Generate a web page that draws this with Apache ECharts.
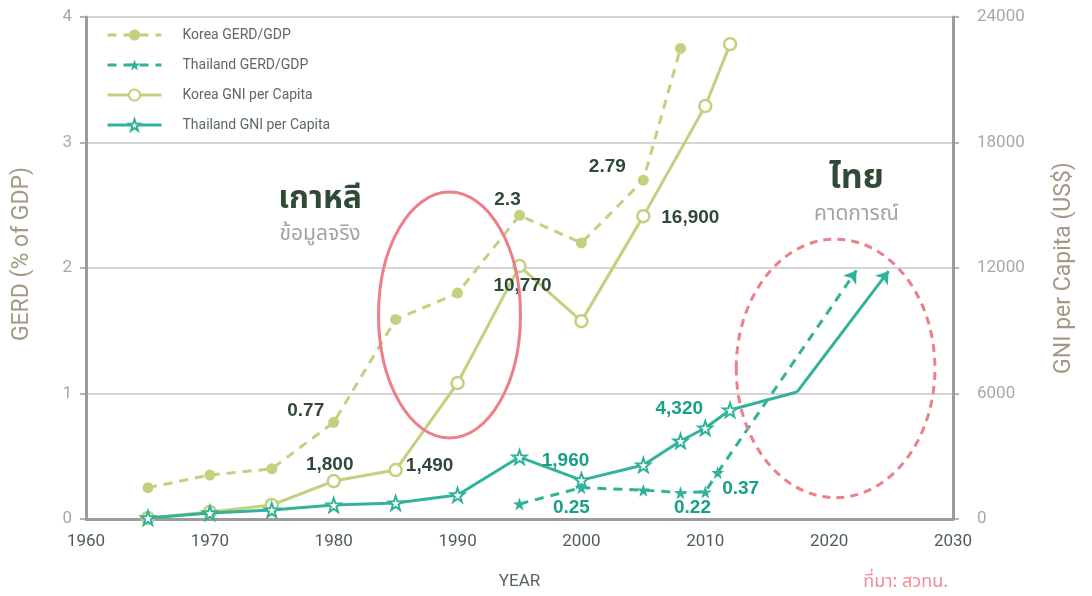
<!DOCTYPE html>
<html>
<head>
<meta charset="utf-8">
<script src="https://cdn.jsdelivr.net/npm/echarts@6/dist/echarts.min.js"></script>
<style>
html,body{margin:0;padding:0;background:#fff;}
#c{width:1092px;height:596px;}
</style>
</head>
<body>
<div id="c"></div>
<script>
// ---- data ----
const koreaGerdYears = [1965, 1970, 1975, 1980, 1985, 1990, 1995, 2000, 2005, 2008];
const koreaGerd      = [0.25, 0.35, 0.40, 0.77, 1.59, 1.80, 2.42, 2.20, 2.70, 3.75];
const koreaGerdLabels = ['', '', '', '0.77', '', '', '2.3', '', '2.79', ''];

const thaiGerdYears = [1995, 2000, 2005, 2008, 2010, 2011];
const thaiGerd      = [0.12, 0.25, 0.23, 0.21, 0.215, 0.37];
const thaiGerdLabels = ['', '0.25', '', '0.22', '', '0.37'];
const thaiGerdProjYear = 2022.2;
const thaiGerdProj     = 1.98;

const koreaGniYears = [1965, 1970, 1975, 1980, 1985, 1990, 1995, 2000, 2005, 2010, 2012];
const koreaGni      = [50, 335, 670, 1815, 2340, 6500, 12090, 9460, 14480, 19740, 22700];
const koreaGniLabels = ['', '', '', '1,800', '1,490', '', '10,770', '', '16,900', '', ''];

const thaiGniYears = [1965, 1970, 1975, 1980, 1985, 1990, 1995, 2000, 2005, 2008, 2010, 2012];
const thaiGni      = [50, 290, 430, 670, 765, 1150, 2960, 1860, 2580, 3730, 4350, 5210];
const thaiGniLabels = ['', '', '', '', '', '', '1,960', '', '', '', '4,320', ''];
const thaiGniProjYears = [2017.4, 2024.8];
const thaiGniProj      = [6070, 11850];

const seriesNames = ['Korea GERD/GDP', 'Thailand GERD/GDP', 'Korea GNI per Capita', 'Thailand GNI per Capita'];
const xTicks = [1960, 2030, 10];
const gerdTicks = [0, 4, 1];
const gniTicks = [0, 24000, 6000];

// ---- style ----
const GREEN = '#c4d07e';
const TEAL = '#33b29a';
const DARK = '#2f4a36';
const TEALTXT = '#17a086';
const AXIS = '#9c9c9c';
const NAMEC = '#a39a84';
const FONT = "'Liberation Sans Narrow', 'Roboto', sans-serif";
const STAR = 'path://M50,2 L61.8,36.2 L97.6,36.9 L69,58.8 L79.4,93.1 L50,72.6 L20.6,93.1 L31,58.8 L2.4,36.9 L38.2,36.2 Z';

const labelOffsets = {
  kGerd: {3: [-28, -12], 6: [-12, -16], 8: [-36, -13]},
  tGerd: {1: [-10, 20], 3: [12, 15], 5: [23, 16]},
  kGni:  {3: [-4, -16], 4: [34, -4], 6: [3, 20], 8: [47, 2]},
  tGni:  {6: [46, 4], 10: [-26, -19]}
};

function build(years, vals, labels, offs, color) {
  return years.map((y, i) => {
    const item = {value: [y, vals[i]]};
    if (labels[i]) {
      item.label = {
        show: true, position: 'inside', formatter: labels[i], offset: offs[i],
        color: color, fontSize: 19, fontWeight: 'bold', fontFamily: "'Liberation Sans', Arial, sans-serif"
      };
    }
    return item;
  });
}

const chart = echarts.init(document.getElementById('c'));

const thaiGniData = build(thaiGniYears, thaiGni, thaiGniLabels, labelOffsets.tGni, TEALTXT);
thaiGniData.push({value: [thaiGniProjYears[0], thaiGniProj[0]], symbol: 'none'});

const plain = v => String(v);

const option = {
  animation: false,
  backgroundColor: '#fff',
  grid: {left: 86, right: 139, top: 17, bottom: 77},
  legend: {
    orient: 'vertical', left: 106, top: 28, padding: 0,
    itemWidth: 54, itemHeight: 14, itemGap: 16,
    lineStyle: {width: 3},
    textStyle: {color: '#5b6b5d', fontSize: 14, fontFamily: FONT, padding: [0, 0, 0, 16]},
    data: seriesNames
  },
  xAxis: {
    type: 'value', min: xTicks[0], max: xTicks[1], interval: xTicks[2],
    name: 'YEAR', nameLocation: 'middle', nameGap: 54,
    nameTextStyle: {color: '#56655a', fontSize: 17, fontFamily: FONT},
    axisLine: {show: true, lineStyle: {color: AXIS, width: 3}},
    axisTick: {show: false},
    splitLine: {show: false},
    axisLabel: {color: '#4f5e52', fontSize: 17, fontFamily: FONT, margin: 14, formatter: plain}
  },
  yAxis: [{
    type: 'value', min: gerdTicks[0], max: gerdTicks[1], interval: gerdTicks[2],
    name: 'GERD (% of GDP)', nameLocation: 'middle', nameGap: 52,
    nameTextStyle: {color: NAMEC, fontSize: 23, fontFamily: FONT, padding: [0, 0, 0, 28]},
    axisLine: {show: true, lineStyle: {color: AXIS, width: 3}},
    axisTick: {show: true, length: 6, lineStyle: {color: AXIS, width: 1.5}},
    splitLine: {show: true, lineStyle: {color: '#c9c9c9', width: 1.5}},
    axisLabel: {color: '#a8a8a8', fontSize: 17, fontFamily: FONT, margin: 14, formatter: plain}
  }, {
    type: 'value', min: gniTicks[0], max: gniTicks[1], interval: gniTicks[2],
    name: 'GNI per Capita (US$)', nameLocation: 'middle', nameGap: 100,
    nameTextStyle: {color: NAMEC, fontSize: 23, fontFamily: FONT, padding: [0, 0, 28, 0]},
    axisLine: {show: true, lineStyle: {color: AXIS, width: 3}},
    axisTick: {show: true, length: 6, lineStyle: {color: AXIS, width: 1.5}},
    splitLine: {show: false},
    axisLabel: {color: '#a8a8a8', fontSize: 17, fontFamily: FONT, margin: 24, formatter: plain}
  }],
  series: [{
    name: seriesNames[0], type: 'line', yAxisIndex: 0, z: 3,
    data: build(koreaGerdYears, koreaGerd, koreaGerdLabels, labelOffsets.kGerd, DARK),
    symbol: 'circle', symbolSize: 11,
    itemStyle: {color: GREEN},
    lineStyle: {color: GREEN, width: 3, type: [9, 7]}
  }, {
    name: seriesNames[1], type: 'line', yAxisIndex: 0, z: 5,
    data: build(thaiGerdYears, thaiGerd, thaiGerdLabels, labelOffsets.tGerd, TEALTXT),
    symbol: STAR, symbolSize: 13,
    itemStyle: {color: TEAL},
    lineStyle: {color: TEAL, width: 3, type: [9, 7]},
    markLine: {
      silent: true, symbol: ['none', 'arrow'], symbolSize: 12, label: {show: false},
      lineStyle: {color: TEAL, width: 3, type: [9, 7]},
      data: [[{coord: [thaiGerdYears[thaiGerdYears.length - 1], thaiGerd[thaiGerd.length - 1]]},
              {coord: [thaiGerdProjYear, thaiGerdProj]}]]
    }
  }, {
    name: seriesNames[2], type: 'line', yAxisIndex: 1, z: 4,
    data: build(koreaGniYears, koreaGni, koreaGniLabels, labelOffsets.kGni, DARK),
    symbol: 'circle', symbolSize: 12,
    itemStyle: {color: '#fff', borderColor: GREEN, borderWidth: 2.5},
    lineStyle: {color: GREEN, width: 3}
  }, {
    name: seriesNames[3], type: 'line', yAxisIndex: 1, z: 6,
    data: thaiGniData,
    symbol: STAR, symbolSize: 14,
    itemStyle: {color: '#fff', borderColor: TEAL, borderWidth: 2},
    lineStyle: {color: TEAL, width: 3},
    markLine: {
      silent: true, symbol: ['none', 'arrow'], symbolSize: 12, label: {show: false},
      lineStyle: {color: TEAL, width: 3, type: 'solid'},
      data: [[{coord: [thaiGniProjYears[0], thaiGniProj[0]]},
              {coord: [thaiGniProjYears[1], thaiGniProj[1]]}]]
    }
  }]
};
chart.setOption(option);

// ---- annotations placed through the grid's scales ----
function px(x, y) { return chart.convertToPixel({gridIndex: 0}, [x, y]); }
function ell(cx, cy, rxYears, ryUnits, dashed) {
  const c = px(cx, cy), e = px(cx + rxYears, cy + ryUnits);
  return {
    type: 'ellipse', z: 20, silent: true,
    shape: {cx: c[0], cy: c[1], rx: Math.abs(e[0] - c[0]), ry: Math.abs(c[1] - e[1])},
    style: {fill: 'none', stroke: '#ec7f88', lineWidth: 3, lineDash: dashed ? [8, 6] : null}
  };
}
function txt(x, y, text, size, color, weight, font) {
  const p = px(x, y);
  return {
    type: 'text', z: 21, silent: true, x: p[0], y: p[1],
    style: {text: text, fill: color, fontSize: size, fontWeight: weight || 'normal',
            fontFamily: font || "'Noto Sans Thai', 'Noto Sans', sans-serif", align: 'center', verticalAlign: 'middle'}
  };
}
chart.setOption({
  graphic: [
    ell(1989.35, 1.625, 5.73, 0.98, false),
    ell(2020.52, 1.20, 8.02, 1.03, true),
    txt(1978.9, 2.53, 'เกาหลี', 32, DARK, 'bold'),
    txt(1978.9, 2.26, 'ข้อมูลจริง', 21, '#a3a3a3'),
    txt(2022.2, 2.69, 'ไทย', 34, DARK, 'bold'),
    txt(2022.2, 2.42, 'คาดการณ์', 21, '#a3a3a3'),
    {type: 'text', z: 21, silent: true, right: 144, bottom: 4,
     style: {text: 'ที่มา: สวทน.', fill: '#f08a94', fontSize: 18, fontFamily: "'Noto Sans Thai', 'Noto Sans', sans-serif"}}
  ]
});
</script>
</body>
</html>
